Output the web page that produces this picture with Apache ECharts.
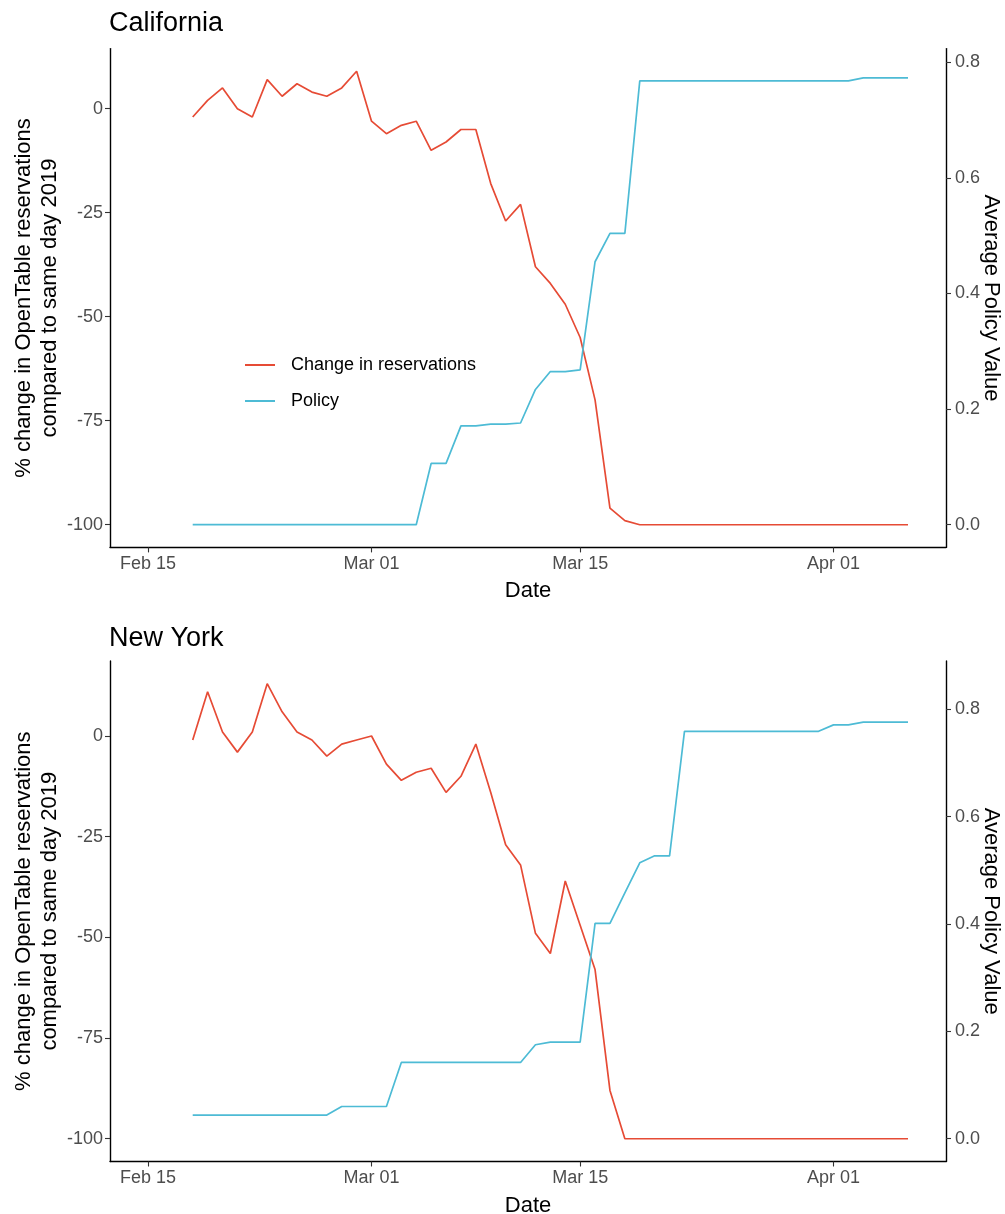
<!DOCTYPE html>
<html>
<head>
<meta charset="utf-8">
<script src="https://cdn.jsdelivr.net/npm/echarts@6/dist/echarts.min.js"></script>
<style>
  html, body { margin: 0; padding: 0; background: #fff; }
  #chart { width: 1005px; height: 1214px; }
</style>
</head>
<body>
<div id="chart"></div>
<script>
  // dates of the observations (Feb 18 - Apr 6, 2020)
  var dates = [
    '2020-02-18','2020-02-19','2020-02-20','2020-02-21','2020-02-22','2020-02-23','2020-02-24',
    '2020-02-25','2020-02-26','2020-02-27','2020-02-28','2020-02-29','2020-03-01','2020-03-02',
    '2020-03-03','2020-03-04','2020-03-05','2020-03-06','2020-03-07','2020-03-08','2020-03-09',
    '2020-03-10','2020-03-11','2020-03-12','2020-03-13','2020-03-14','2020-03-15','2020-03-16',
    '2020-03-17','2020-03-18','2020-03-19','2020-03-20','2020-03-21','2020-03-22','2020-03-23',
    '2020-03-24','2020-03-25','2020-03-26','2020-03-27','2020-03-28','2020-03-29','2020-03-30',
    '2020-03-31','2020-04-01','2020-04-02','2020-04-03','2020-04-04','2020-04-05','2020-04-06'
  ];

  var caReservations = [
    -2, 2, 5, 0, -2, 7, 3, 6, 4, 3, 5, 9,
    -3, -6, -4, -3, -10, -8, -5, -5, -18, -27, -23, -38, -42, -47, -55, -70, -96, -99,
    -100, -100, -100, -100, -100, -100, -100, -100, -100, -100, -100, -100, -100,
    -100, -100, -100, -100, -100, -100
  ];
  var caPolicy = [
    0, 0, 0, 0, 0, 0, 0, 0, 0, 0, 0, 0,
    0, 0, 0, 0, 0.106, 0.106, 0.171, 0.171, 0.174, 0.174, 0.176, 0.234, 0.265, 0.265, 0.268, 0.455, 0.504, 0.504,
    0.768, 0.768, 0.768, 0.768, 0.768, 0.768, 0.768, 0.768, 0.768, 0.768, 0.768, 0.768, 0.768,
    0.768, 0.768, 0.773, 0.773, 0.773, 0.773
  ];

  var nyReservations = [
    -1, 11, 1, -4, 1, 13, 6, 1, -1, -5, -2, -1,
    0, -7, -11, -9, -8, -14, -10, -2, -14, -27, -32, -49, -54, -36, -47, -58, -88, -100,
    -100, -100, -100, -100, -100, -100, -100, -100, -100, -100, -100, -100, -100,
    -100, -100, -100, -100, -100, -100
  ];
  var nyPolicy = [
    0.044, 0.044, 0.044, 0.044, 0.044, 0.044, 0.044, 0.044, 0.044, 0.044, 0.060, 0.060,
    0.060, 0.060, 0.142, 0.142, 0.142, 0.142, 0.142, 0.142, 0.142, 0.142, 0.142, 0.175, 0.180, 0.180, 0.180, 0.401, 0.401, 0.458,
    0.514, 0.527, 0.527, 0.759, 0.759, 0.759, 0.759, 0.759, 0.759, 0.759, 0.759, 0.759, 0.759,
    0.771, 0.771, 0.776, 0.776, 0.776, 0.776
  ];

  var xTickDates = ['2020-02-15', '2020-03-01', '2020-03-15', '2020-04-01'];
  var xTickLabels = ['Feb 15', 'Mar 01', 'Mar 15', 'Apr 01'];
  var leftTicks = [-100, -75, -50, -25, 0];
  var rightTicks = [0, 0.2, 0.4, 0.6, 0.8];

  var origin = Date.UTC(2020, 1, 15);
  function dayNum(s) {
    var p = s.split('-');
    return (Date.UTC(+p[0], +p[1] - 1, +p[2]) - origin) / 86400000;
  }
  var xDays = dates.map(dayNum);
  var tickDays = xTickDates.map(dayNum);

  function pairs(vals) {
    return vals.map(function (v, i) { return [xDays[i], v]; });
  }

  var RED = '#E64B35', BLUE = '#4DBBD5';
  var FONT = 'Liberation Sans, Arial, sans-serif';
  var axisLine = { show: true, onZero: false, lineStyle: { color: '#000', width: 1.4 } };
  var tickStyle = { lineStyle: { color: '#333', width: 1.1 }, length: 5 };
  var labelStyle = { color: '#4d4d4d', fontSize: 18, fontFamily: FONT };
  var nameStyle = { color: '#000', fontSize: 22, fontFamily: FONT };

  function xAxis(grid) {
    return {
      type: 'value', gridIndex: grid, min: -2.55, max: 53.55,
      name: 'Date', nameLocation: 'middle', nameGap: 33, nameMoveOverlap: false,
      nameTextStyle: nameStyle,
      axisLine: axisLine, splitLine: { show: false },
      axisTick: Object.assign({ show: true, customValues: tickDays }, tickStyle),
      axisLabel: Object.assign({
        customValues: tickDays, margin: 8,
        formatter: function (v) {
          var i = tickDays.indexOf(v);
          return i >= 0 ? xTickLabels[i] : '';
        }
      }, labelStyle)
    };
  }
  function leftAxis(grid, min, max) {
    return {
      type: 'value', gridIndex: grid, min: min, max: max,
      name: '% change in OpenTable reservations\ncompared to same day 2019',
      nameLocation: 'middle', nameGap: 47, nameRotate: 90, nameMoveOverlap: false,
      nameTextStyle: Object.assign({ lineHeight: 26 }, nameStyle),
      axisLine: axisLine, splitLine: { show: false },
      axisTick: Object.assign({ show: true, customValues: leftTicks }, tickStyle),
      axisLabel: Object.assign({ customValues: leftTicks, margin: 7 }, labelStyle)
    };
  }
  function rightAxis(grid, min, max) {
    return {
      type: 'value', gridIndex: grid, position: 'right', min: min, max: max,
      name: 'Average Policy Value',
      nameLocation: 'middle', nameGap: 34, nameRotate: -90, nameMoveOverlap: false,
      nameTextStyle: nameStyle,
      axisLine: axisLine, splitLine: { show: false },
      axisTick: Object.assign({ show: true, customValues: rightTicks }, tickStyle),
      axisLabel: Object.assign({
        customValues: rightTicks, margin: 9,
        formatter: function (v) { return v.toFixed(1); }
      }, labelStyle)
    };
  }
  function line(name, data, xi, yi, color) {
    return {
      name: name, type: 'line', xAxisIndex: xi, yAxisIndex: yi,
      data: pairs(data), showSymbol: false, symbol: 'none',
      lineStyle: { color: color, width: 1.7 }, itemStyle: { color: color },
      animation: false
    };
  }

  var chart = echarts.init(document.getElementById('chart'));
  chart.setOption({
    backgroundColor: '#fff',
    animation: false,
    title: [
      { text: 'California', left: 109, top: 10, padding: 0,
        textStyle: { fontSize: 27, fontWeight: 'normal', color: '#000', fontFamily: FONT } },
      { text: 'New York', left: 109, top: 625, padding: 0,
        textStyle: { fontSize: 27, fontWeight: 'normal', color: '#000', fontFamily: FONT } }
    ],
    legend: {
      orient: 'vertical', left: 245, top: 356, padding: 0,
      data: ['Change in reservations', 'Policy'],
      icon: 'rect', itemWidth: 30, itemHeight: 2, itemGap: 18,
      textStyle: { color: '#000', fontSize: 18, fontFamily: FONT, padding: [0, 0, 0, 11] }
    },
    grid: [
      { left: 110, top: 48.6, width: 836, height: 498.8, outerBoundsMode: 'none' },
      { left: 110, top: 660.9, width: 836, height: 500.6, outerBoundsMode: 'none' }
    ],
    xAxis: [xAxis(0), xAxis(1)],
    yAxis: [
      leftAxis(0, -105.45, 14.45),
      rightAxis(0, -0.0393, 0.8238),
      leftAxis(1, -105.65, 18.65),
      rightAxis(1, -0.0425, 0.8902)
    ],
    series: [
      line('Change in reservations', caReservations, 0, 0, RED),
      line('Policy', caPolicy, 0, 1, BLUE),
      line('Change in reservations', nyReservations, 1, 2, RED),
      line('Policy', nyPolicy, 1, 3, BLUE)
    ]
  });
</script>
</body>
</html>
